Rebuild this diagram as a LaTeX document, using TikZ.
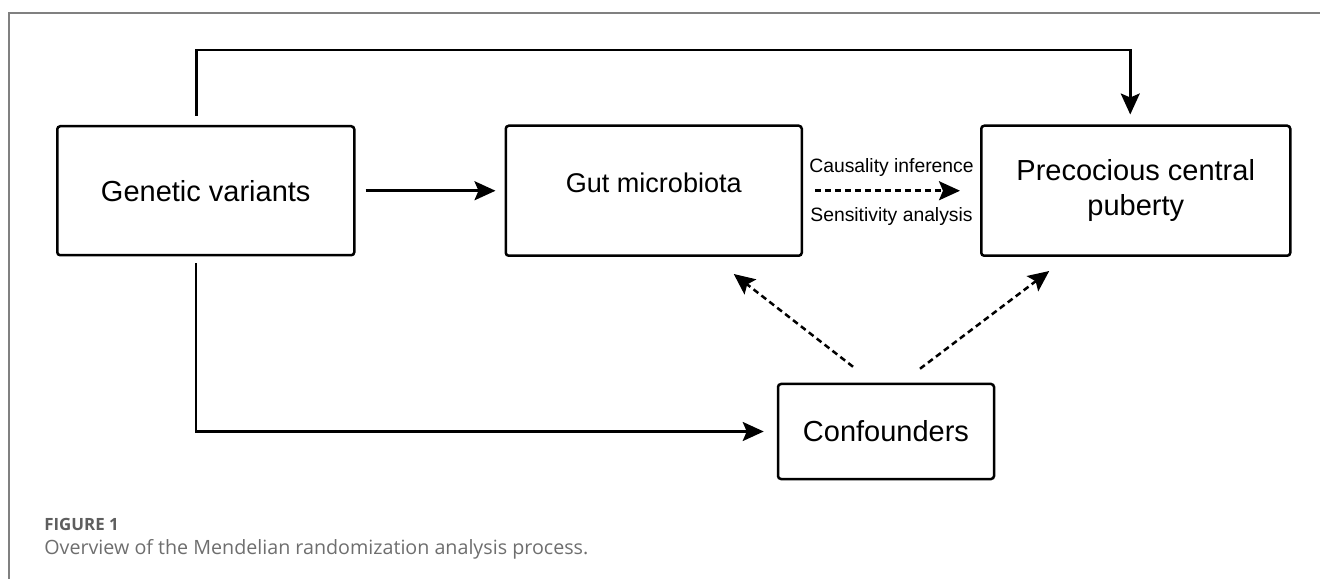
\documentclass[tikz,border=0pt]{standalone}
\usepackage{fontspec}
\setmainfont{Liberation Sans}
\newfontfamily\capfont{Open Sans}
\usetikzlibrary{arrows.meta,positioning}
\usepackage{xcolor}
\definecolor{framegray}{HTML}{808080}
\definecolor{capgray}{HTML}{6E6E6E}

\begin{document}
\begin{tikzpicture}[
    node distance=2.98cm,
    >={Stealth[length=0.42cm, width=0.38cm, inset=0.08cm]},
    box/.style={draw, rectangle, rounded corners=0.06cm, line width=0.05cm, inner sep=0pt, minimum width=5.94cm, minimum height=2.58cm, text centered, align=center, font=\fontsize{16.5}{19.9}\selectfont},
    link/.style={->, line width=0.05cm},
    dlink/.style={->, line width=0.05cm, dash pattern=on 0.12cm off 0.08cm},
    lbl/.style={inner sep=0pt, font=\fontsize{11}{13}\selectfont}
]
\useasboundingbox (0,0) rectangle (26.4,-11.58);
\draw [framegray, line width=0.03cm] (0.18,-11.58) |- (26.4,-0.26);

\node (gen) [box, anchor=north west] at (1.12,-2.5) {Genetic variants};
\node (gut) [box, right=of gen, minimum width=5.92cm, minimum height=2.6cm] {};
\node (gutlbl) [inner sep=0pt, font=\fontsize{15.4}{18}\selectfont] at ([yshift=0.16cm]gut.center) {Gut microbiota};
\node (prec) [box, right=3.54cm of gut, minimum width=6.18cm, minimum height=2.6cm] {Precocious central\\puberty};
\node (conf) [box, minimum width=4.32cm, minimum height=1.9cm] at (17.72,-8.63) {Confounders};

\draw [link, shorten <=0.2cm, shorten >=0.18cm] (gen) -- (gut);
\draw [dlink, shorten <=0.24cm, shorten >=0.4cm] (gut) -- (prec)
    node [lbl, midway, yshift=0.46cm] {Causality inference}
    node [lbl, midway, yshift=-0.52cm] {Sensitivity analysis};
\draw [link, shorten <=0.18cm, shorten >=0.2cm] ([xshift=-0.19cm]gen.north) -- ++(0,1.5) -| ([xshift=-0.11cm]prec.north);
\draw [link, shorten <=0.14cm, shorten >=0.26cm] ([xshift=-0.2cm]gen.south) |- (conf.west);
\draw [dlink] ([xshift=-0.66cm, yshift=0.32cm]conf.north) -- ([xshift=1.6cm, yshift=-0.34cm]gut.south);
\draw [dlink] ([xshift=0.68cm, yshift=0.28cm]conf.north) -- ([xshift=-1.73cm, yshift=-0.28cm]prec.south);

% caption
\node (figno) [anchor=base west, inner sep=0pt, text=capgray!85!black, font=\capfont\bfseries\fontsize{9.6}{11}\selectfont] at (0.88,-10.6) {FIGURE 1};
\node (caption) [anchor=base west, inner sep=0pt, text=capgray, font=\capfont\fontsize{11.2}{13}\selectfont] at (0.88,-11.08) {Overview of the Mendelian randomization analysis process.};
\end{tikzpicture}
\end{document}
